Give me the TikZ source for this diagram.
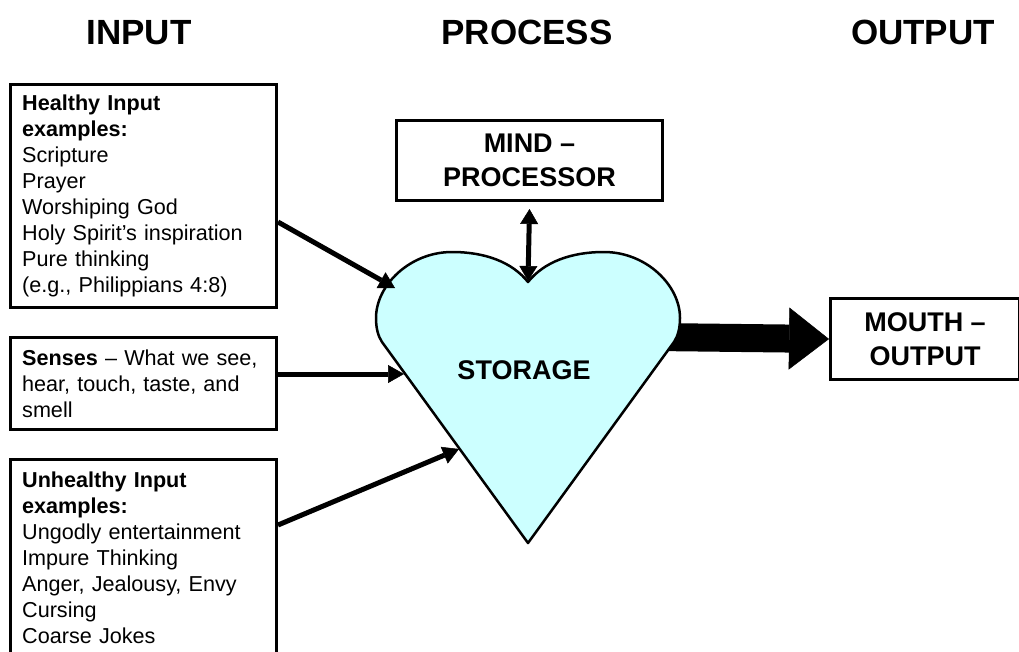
\documentclass[tikz,border=0pt]{standalone}
\usepackage{fontspec}
\setmainfont{Liberation Sans}
\usetikzlibrary{arrows.meta,calc}
\definecolor{heartfill}{RGB}{204,255,255}
\begin{document}
\begin{tikzpicture}[x=1pt,y=-1pt,
  box/.style={draw=black, line width=3pt, inner sep=0pt, anchor=north west},
  body/.style={font=\fontsize{21.6}{26}\selectfont, anchor=base west, inner sep=0pt, text width=255pt, align=left},
  head/.style={font=\fontsize{35}{40}\selectfont\bfseries, anchor=base, inner sep=0pt},
  label/.style={font=\fontsize{27}{33.5}\selectfont\bfseries, align=center, inner sep=0pt},
  feed/.style={line width=5pt, -{Triangle[length=16pt,width=18pt,line width=0.5pt]}},
]
\useasboundingbox (0,0) rectangle (1019,651);
\fill[white] (0,0) rectangle (1019,651);

% headings
\node[head] (inputhead) at (139,44) {INPUT};
\node[head] (processhead) at (527,44) {PROCESS};
\node[head] (outputhead) at (923,44) {OUTPUT};

% input boxes
\node[box, minimum width=266pt, minimum height=223pt] (healthybox) at (9,83) {};
\node[body] (healthytext) at (22,110) {\textbf{Healthy Input}\\\textbf{examples:}\\Scripture\\Prayer\\Worshiping God\\Holy Spirit’s inspiration\\Pure thinking\\(e.g., Philippians 4:8)};

\node[box, minimum width=266pt, minimum height=92pt] (sensesbox) at (9,336) {};
\node[body] (sensestext) at (22,365) {\textbf{Senses} – What we see,\\hear, touch, taste, and\\smell};

\node[box, minimum width=266pt, minimum height=230pt] (unhealthybox) at (9,458) {};
\node[body] (unhealthytext) at (22,487) {\textbf{Unhealthy Input}\\\textbf{examples:}\\Ungodly entertainment\\Impure Thinking\\Anger, Jealousy, Envy\\Cursing\\Coarse Jokes};

% mind and mouth boxes
\node[box, minimum width=266pt, minimum height=80pt, font=\fontsize{27}{33.5}\selectfont\bfseries, align=center] (mindbox) at (395,119) {MIND –\\PROCESSOR};
\node[box, minimum width=189pt, minimum height=81pt, font=\fontsize{27}{33.5}\selectfont\bfseries, align=center] (mouthbox) at (829,297) {MOUTH –\\OUTPUT};

% heart anchor points
\coordinate (hin1) at (395,288);
\coordinate (hin2) at (404,374);
\coordinate (hin3) at (459,449);
\coordinate (hdip) at (528,281);
\coordinate (hright) at (655,337);

% big output arrow (under the heart)
\draw[line width=28pt, -{Triangle[length=40pt,width=62pt,line width=0.5pt]}] (hright) -- (mouthbox.west);

% heart
\draw[line width=2.5pt, fill=heartfill, line join=round]
  (528,282) .. controls (512,262) and (485,252) .. (452,252)
  .. controls (410,252) and (376,285) .. (376,318)
  .. controls (376,328) and (378,336) .. (382,342)
  -- (528,543) -- (674,342)
  .. controls (678,336) and (680,328) .. (680,318)
  .. controls (680,285) and (646,252) .. (604,252)
  .. controls (571,252) and (544,262) .. (528,282) -- cycle;
\node[label] (storage) at (524,370) {STORAGE};

% input arrows
\draw[feed] ($(healthybox.north east)+(0,139)$) -- (hin1);
\draw[feed] ($(sensesbox.north east)+(0,38)$) -- (hin2);
\draw[feed] ($(unhealthybox.north east)+(0,67)$) -- (hin3);

% mind <-> heart
\draw[line width=5pt, {Triangle[length=15pt,width=18pt,line width=0.5pt]}-{Triangle[length=15pt,width=18pt,line width=0.5pt]}] ($(mindbox.south)+(0,7)$) -- (hdip);
\end{tikzpicture}
\end{document}
